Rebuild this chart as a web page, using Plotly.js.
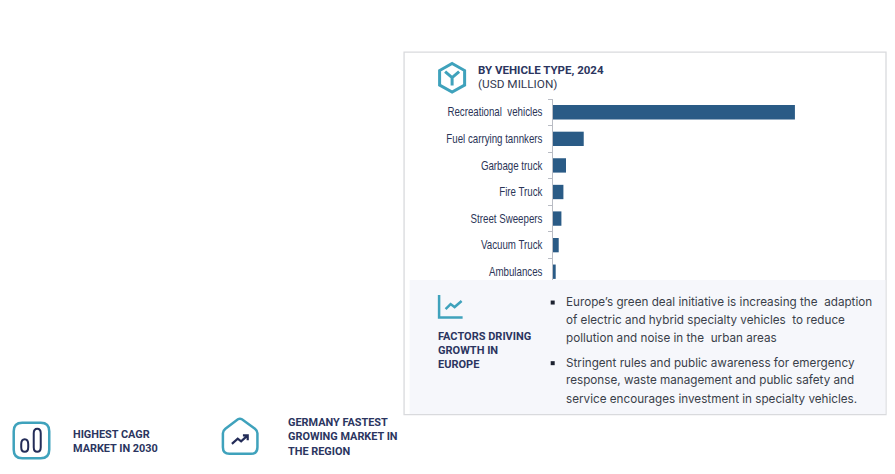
<!DOCTYPE html>
<html><head><meta charset="utf-8">
<script src="https://cdn.plot.ly/plotly-3.0.1.min.js"></script>
<style>html,body{margin:0;padding:0;background:#fff;overflow:hidden}#c{width:895px;height:474px}</style>
</head><body><div id="c"></div>
<script>
const categories=["Recreational  vehicles","Fuel carrying tannkers","Garbage truck","Fire Truck","Street Sweepers","Vacuum Truck","Ambulances"];
const values=[2417,307,130,104,84,57,27];
const titleLines=["BY VEHICLE TYPE, 2024"];
const unitLines=["(USD MILLION)"];
const factorLines=["FACTORS DRIVING","GROWTH IN","EUROPE"];
const bulletLines=["Europe’s green deal initiative is increasing the  adaption","of electric and hybrid specialty vehicles  to reduce","pollution and noise in the  urban areas","Stringent rules and public awareness for emergency","response, waste management and public safety and","service encourages investment in specialty vehicles."];
const cagrLines=["HIGHEST CAGR","MARKET IN 2030"];
const germanyLines=["GERMANY FASTEST","GROWING MARKET IN","THE REGION"];

const W=895,H=474,L=553.3,T=99.4,R=885,B=285;
const px=x=>(x-L)/(R-L), py=y=>(B-y)/(B-T);
const TEAL="#3fa2bc",NAVY="#232c58",TXT="#2b3560",BODY="#3a3f4a";
const P=(s)=>s.replace(/([MLQ ])(-?[\d.]+),(-?[\d.]+)/g,(m,c,x,y)=>c+px(+x)+","+py(+y));
const pathShape=(d,color,w,fill)=>({type:"path",xref:"paper",yref:"paper",layer:"above",path:P(d),line:{color:color,width:w},fillcolor:fill||"rgba(0,0,0,0)"});
const rect=(x0,y0,x1,y1,fill,line)=>({type:"rect",xref:"paper",yref:"paper",layer:"above",x0:px(x0),x1:px(x1),y0:py(y0),y1:py(y1),fillcolor:fill,line:line||{width:0}});
const ln=(x,y,t,size,color,bold,fam)=>({xref:"paper",yref:"paper",x:px(x),y:py(y),xanchor:"left",yanchor:"middle",showarrow:false,text:bold?"<b>"+t+"</b>":t,font:{size:size,color:color,family:fam||"Roboto"},align:"left",borderpad:0});

const shapes=[
 rect(404.5,52.7,886,414.3,"rgba(0,0,0,0)",{color:"#d9dadd",width:1.3}),
 rect(410,280,885.4,413.7,"#f6f7fb"),
 pathShape("M452.5,64 L465,71 L465,85.5 L452.5,92.5 L440,85.5 L440,71 Z",TEAL,3),
 pathShape("M445.5,72 L452.5,78 L459.5,72 M452.5,78 L452.5,86",TEAL,3),
 pathShape("M439.5,295 L439.5,317.5 L463,317.5",TEAL,2.5),
 pathShape("M446,309 L451,304 L455,307 L462,301",TEAL,2.5),
 rect(551,300.5,555,304.5,"#1d2230"),
 rect(551,361,555,365,"#1d2230"),
 pathShape("M23,422.5 L41.5,422.5 Q50,422.5 50,431 L50,449.5 Q50,458 41.5,458 L23,458 Q14.5,458 14.5,449.5 L14.5,431 Q14.5,422.5 23,422.5 Z",TEAL,2.5),
 pathShape("M25.5,439 Q29,439 29,444 L29,447 Q29,451.5 25.5,451.5 Q22,451.5 22,447 L22,444 Q22,439 25.5,439 Z",NAVY,2),
 pathShape("M38,428.5 Q41.5,428.5 41.5,433 L41.5,447 Q41.5,451.5 38,451.5 Q34.5,451.5 34.5,447 L34.5,433 Q34.5,428.5 38,428.5 Z",NAVY,2),
 pathShape("M238.5,419 Q240.5,417.8 242.5,419 L255.5,428.5 Q258,430.5 258,433 L258,447 Q258,453.5 251.5,453.5 L230,453.5 Q223.5,453.5 223.5,447 L223.5,433 Q223.5,430.5 226,428.5 Z",TEAL,2.5),
 pathShape("M232.5,443.5 L238.3,438.3 L241.7,441 L248,435.3 M243.5,435 L248.3,435 L248.3,440",NAVY,2.2)
];
const ann=[];
titleLines.forEach((t,i)=>ann.push(ln(477,70,t,11.5,TXT,true)));
unitLines.forEach((t,i)=>ann.push(ln(477,84,t,11.8,"#333a52",false)));
factorLines.forEach((t,i)=>ann.push(ln(437,[336,350,364.5][i],t,11,TXT,true)));
bulletLines.forEach((t,i)=>ann.push(ln(565,[302,320,338,362.5,380,398.5][i],t,11.7,BODY,false,"Inter")));
cagrLines.forEach((t,i)=>ann.push(ln(72.5,[434,448][i],t,10.9,TXT,true)));
germanyLines.forEach((t,i)=>ann.push(ln(287.5,[422,436,451][i],t,10.9,TXT,true)));

Plotly.newPlot("c",[{type:"bar",orientation:"h",y:categories,x:values,marker:{color:"#2a5b86",line:{width:0}},hoverinfo:"skip"}],{
 width:W,height:H,autosize:false,showlegend:false,
 margin:{l:L,r:W-R,t:T,b:H-B,pad:0},
 paper_bgcolor:"#fff",plot_bgcolor:"#fff",
 bargap:0.46,
 xaxis:{range:[0,3317],visible:false,fixedrange:true},
 yaxis:{type:"category",autorange:false,range:[6.5,-0.5],automargin:false,showline:true,linecolor:"#b9bcc4",linewidth:1.2,ticks:"outside",tickson:"boundaries",ticklen:4,tickcolor:"#b9bcc4",tickwidth:1,ticklabelstandoff:7,showgrid:false,zeroline:false,fixedrange:true,tickfont:{family:"'Liberation Sans'",size:12,color:"#2b3557"}},
 shapes:shapes,annotations:ann
},{displayModeBar:false,staticPlot:true}).then(gd=>{
 // the reference's tick labels are set in a condensed face: narrow them around their right edge
 gd.querySelectorAll(".ytick text").forEach(t=>{
  const xr=+t.getAttribute("x")||0, tr=t.getAttribute("transform")||"";
  t.setAttribute("transform",tr+" translate("+xr+",0) scale(0.81,1) translate("+(-xr)+",0)");
 });
});
</script></body></html>
